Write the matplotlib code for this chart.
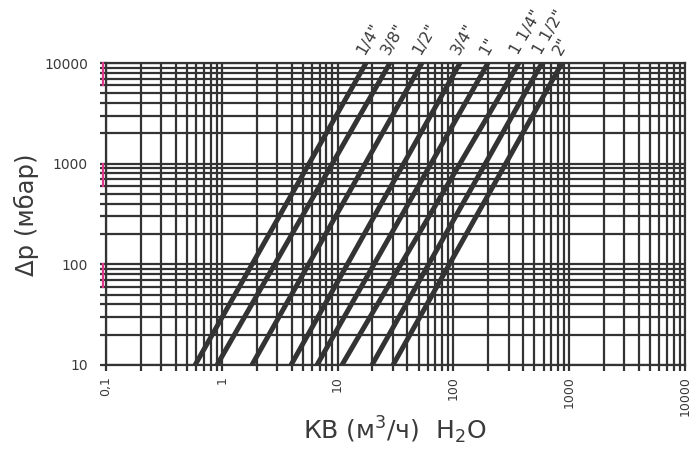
import numpy as np
import matplotlib
matplotlib.use("Agg")
import matplotlib.pyplot as plt
from matplotlib.ticker import FixedLocator, FixedFormatter, NullFormatter
import matplotlib.transforms as mtransforms

# ---- data ----
sizes = ['1/4"', '3/8"', '1/2"', '3/4"', '1"', '1 1/4"', '1 1/2"', '2"']
q_at_10 = [0.588, 0.91, 1.82, 3.96, 6.64, 10.9, 19.8, 30.1]       # m3/h at 10 mbar
q_at_10000 = [17.6, 28.3, 53.5, 114, 199, 368, 582, 867]         # m3/h at 10000 mbar
dp_ends = [10, 10000]

x_major = [0.1, 1, 10, 100, 1000, 10000]
x_labels = ["0,1", "1", "10", "100", "1000", "10000"]
y_major = [10, 100, 1000, 10000]
y_labels = ["10", "100", "1000", "10000"]

DARK = "#333333"
TEXT = "#3a3a3a"
PINK = "#e0368c"

fig = plt.figure(figsize=(7.0, 4.59), dpi=100)
ax = fig.add_axes([106/700, 1 - 365/459, (685 - 106)/700, (365 - 63)/459])
ax.set_xscale("log")
ax.set_yscale("log")
ax.set_xlim(0.1, 10000)
ax.set_ylim(10, 10000)

x_minor = [m * 10.0**e for e in range(-1, 4) for m in range(2, 10)]
y_minor = [m * 10.0**e for e in range(1, 4) for m in range(2, 10)]
ax.xaxis.set_major_locator(FixedLocator(x_major))
ax.xaxis.set_major_formatter(FixedFormatter(x_labels))
ax.xaxis.set_minor_locator(FixedLocator(x_minor))
ax.xaxis.set_minor_formatter(NullFormatter())
ax.yaxis.set_major_locator(FixedLocator(y_major))
ax.yaxis.set_major_formatter(FixedFormatter(y_labels))
ax.yaxis.set_minor_locator(FixedLocator(y_minor))
ax.yaxis.set_minor_formatter(NullFormatter())

ax.grid(True, which="both", color=DARK, lw=1.6)
ax.set_axisbelow(True)
for s in ax.spines.values():
    s.set_color(DARK)
    s.set_linewidth(1.6)
ax.tick_params(which="both", direction="out", length=4, width=1.6, color=DARK)
ax.tick_params(axis="x", which="major", labelrotation=90, pad=4, labelsize=9, labelcolor=TEXT)
ax.tick_params(axis="y", which="major", pad=9, labelsize=10, labelcolor=TEXT)

# pink marks on the left edge, upper part of each decade
trans = mtransforms.blended_transform_factory(ax.transAxes, ax.transData)
for dec in [10, 100, 1000]:
    ax.plot([-0.005, -0.005], [dec * 6, dec * 10], color=PINK, lw=1.6,
            transform=trans, clip_on=False, zorder=5)

# valve curves
for name, q0, q1 in zip(sizes, q_at_10, q_at_10000):
    ax.plot([q0, q1], dp_ends, color=DARK, lw=3.6, solid_capstyle="butt", zorder=4)
    ax.annotate(name, xy=(q1, dp_ends[1]), xytext=(1, 4), textcoords="offset points",
                rotation=60, rotation_mode="anchor", ha="left", va="bottom",
                fontsize=11.5, color=TEXT, annotation_clip=False)

fig.text(26/700, 1 - 215/459, "Δp (мбар)", rotation=90, ha="center", va="center",
         fontsize=17.5, color=TEXT)
fig.text(395/700, 1 - 430/459, "КВ (м$^3$/ч)  H$_2$O", ha="center", va="center",
         fontsize=18, color=TEXT)

fig.savefig("out.png", dpi=100)
